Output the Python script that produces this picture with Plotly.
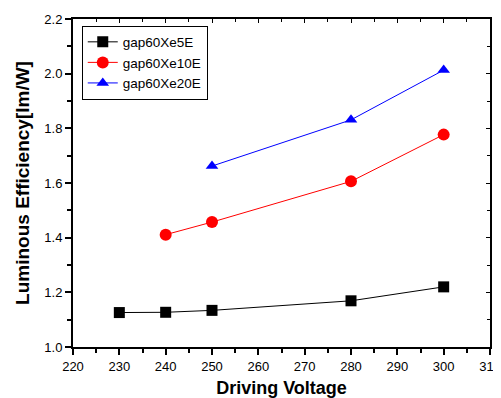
import plotly.graph_objects as go

x_5e = [230, 240, 250, 280, 300]
y_5e = [1.126, 1.127, 1.134, 1.169, 1.220]
x_10e = [240, 250, 280, 300]
y_10e = [1.411, 1.457, 1.606, 1.777]
x_20e = [250, 280, 300]
y_20e = [1.662, 1.831, 2.013]
names = ["gap60Xe5E", "gap60Xe10E", "gap60Xe20E"]

FONT = "Liberation Sans, Arial, sans-serif"

fig = go.Figure()
fig.add_trace(go.Scatter(x=x_5e, y=y_5e, name=names[0], mode="lines+markers",
                         line=dict(color="black", width=1),
                         marker=dict(symbol="square", size=11, color="black")))
fig.add_trace(go.Scatter(x=x_10e, y=y_10e, name=names[1], mode="lines+markers",
                         line=dict(color="#ff0000", width=1),
                         marker=dict(symbol="circle", size=12, color="#ff0000")))
fig.add_trace(go.Scatter(x=x_20e, y=y_20e, name=names[2], mode="lines+markers",
                         line=dict(color="#0000ff", width=1),
                         marker=dict(symbol="triangle-up", size=11, color="#0000ff")))

axis_common = dict(showgrid=False, zeroline=False, linecolor="black", linewidth=2,
                   tickcolor="black", tickwidth=1.5, ticklen=6, automargin=False,
                   tickfont=dict(family=FONT, size=13, color="black"))

# page body has an 8px default margin: compensate in size and margins
fig.update_layout(
    template="none",
    width=493, height=390,
    margin=dict(l=65, r=11, t=11, b=51),
    paper_bgcolor="white", plot_bgcolor="white",
    font=dict(family=FONT, color="black"),
    xaxis=dict(range=[220, 310], dtick=10, tick0=220, ticks="outside",
               minor=dict(dtick=5, ticks="outside", ticklen=4, tickcolor="black"),
               title=dict(text="<b>Driving Voltage</b>", font=dict(family=FONT, size=18),
                          standoff=30),
               **axis_common),
    yaxis=dict(range=[1.0, 2.2], dtick=0.2, tick0=1.0, ticks="outside", tickformat=".1f",
               minor=dict(dtick=0.1, ticks="outside", ticklen=4, tickcolor="black"),
               title=dict(text="<b>Luminous Efficiency[lm/W]</b>", font=dict(family=FONT, size=19),
                          standoff=10),
               **axis_common),
    xaxis2=dict(range=[220, 310], dtick=10, tick0=220, ticks="inside", overlaying="x",
                side="top", showticklabels=False, showgrid=False, zeroline=False,
                linecolor="black", linewidth=2, tickcolor="black", ticklen=4, automargin=False,
                minor=dict(dtick=5, ticks="inside", ticklen=3, tickcolor="black")),
    yaxis2=dict(range=[1.0, 2.2], dtick=0.2, tick0=1.0, ticks="inside", overlaying="y",
                side="right", showticklabels=False, showgrid=False, zeroline=False,
                linecolor="black", linewidth=2, tickcolor="black", ticklen=4, automargin=False,
                minor=dict(dtick=0.1, ticks="inside", ticklen=3, tickcolor="black")),
    legend=dict(x=0.021, y=0.98, xanchor="left", yanchor="top",
                bgcolor="white", bordercolor="black", borderwidth=1,
                font=dict(family=FONT, size=13.5, color="black"),
                tracegroupgap=0, itemwidth=30),
    showlegend=True,
)
# invisible trace to activate secondary axes
fig.add_trace(go.Scatter(x=[220], y=[1.0], xaxis="x2", yaxis="y2", mode="markers",
                         marker=dict(opacity=0), showlegend=False, hoverinfo="skip"))

fig.write_html("out.html")
